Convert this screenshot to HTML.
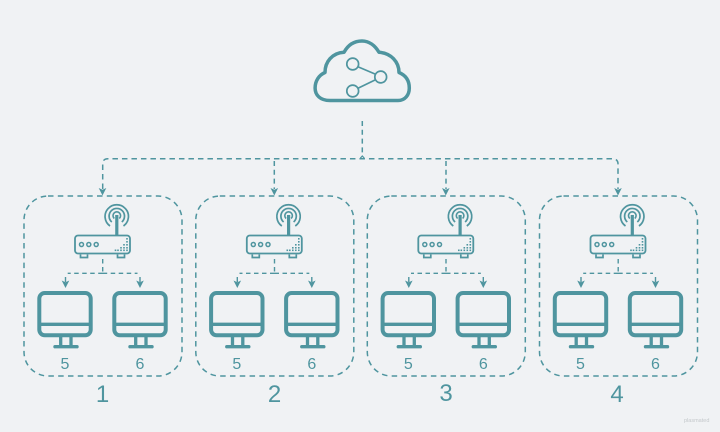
<!DOCTYPE html>
<html>
<head>
<meta charset="utf-8">
<style>
html,body{margin:0;padding:0;background:#f0f2f4;width:720px;height:432px;overflow:hidden}
svg{display:block}
text{font-family:"Liberation Sans",sans-serif;fill:#4f959f}
</style>
</head>
<body>
<svg width="720" height="432" viewBox="0 0 720 432" xmlns="http://www.w3.org/2000/svg">
<defs>
<g id="mon">
<rect x="39.3" y="293" width="51.4" height="42.3" rx="5.5" fill="none" stroke="#4f959f" stroke-width="4"/>
<path d="M39.3 324.3H90.7" stroke="#4f959f" stroke-width="3.3"/>
<path d="M60.7 336V346M71 336V346" stroke="#4f959f" stroke-width="3.3" fill="none"/>
<path d="M55 346.7H77" stroke="#4f959f" stroke-width="3.4" stroke-linecap="round"/>
</g>
<g id="arrow">
<path d="M-3.8 -6.500L0 -4.800L3.800 -6.500L0 1Z" fill="#4f959f"/>
</g>
<g id="grp">
<rect x="24" y="196" width="158" height="180" rx="24" fill="none" stroke="#4f959f" stroke-width="1.500" stroke-dasharray="5.500 4.300"/>
<use href="#arrow" x="102.500" y="194.500"/>
<!-- router -->
<g fill="none" stroke="#4f959f">
<path d="M110 226A11.700 11.700 0 1 1 123.500 226" stroke-width="1.700"/>
<path d="M111.800 222A7.700 7.700 0 1 1 121.800 222" stroke-width="1.700"/>
<path d="M114.300 218.500A3.800 3.800 0 1 1 119.300 218.500" stroke-width="1.600"/>
<rect x="75" y="235.500" width="55" height="18" rx="3" stroke-width="1.800"/>
<path d="M80.500 254.500V257.500H87.500V254.500M117.500 254.500V257.500H124.500V254.500" stroke-width="1.700"/>
<circle cx="81.500" cy="244.500" r="2" stroke-width="1.500"/>
<circle cx="88.800" cy="244.500" r="2" stroke-width="1.500"/>
<circle cx="96.200" cy="244.500" r="2" stroke-width="1.500"/>
</g>
<path d="M116.800 215V235" stroke="#4f959f" stroke-width="3.200"/>
<g fill="#4f959f">
<rect x="126.200" y="238" width="1.600" height="1.600"/>
<rect x="126.200" y="241" width="1.600" height="1.600"/>
<rect x="126.200" y="244" width="1.600" height="1.600"/>
<rect x="123.200" y="244" width="1.600" height="1.600"/>
<rect x="126.200" y="247" width="1.600" height="1.600"/>
<rect x="123.200" y="247" width="1.600" height="1.600"/>
<rect x="120.200" y="247" width="1.600" height="1.600"/>
<rect x="126.200" y="249.500" width="1.600" height="1.600"/>
<rect x="123.200" y="249.500" width="1.600" height="1.600"/>
<rect x="120.200" y="249.500" width="1.600" height="1.600"/>
<rect x="117.200" y="249.500" width="1.600" height="1.600"/>
<rect x="114.700" y="249.500" width="1.600" height="1.600"/>
</g>
<!-- router connectors -->
<path d="M102.700 259V273.300" fill="none" stroke="#4f959f" stroke-width="1.400" stroke-dasharray="4.500 3.500"/>
<path d="M102.700 273.300H67.700M102.700 273.300H137.500" fill="none" stroke="#4f959f" stroke-width="1.400" stroke-dasharray="4.500 3.500"/>
<path d="M65.500 277V282M140 277V282" fill="none" stroke="#4f959f" stroke-width="1.400"/>
<use href="#arrow" x="65.500" y="287"/>
<use href="#arrow" x="140" y="287"/>
<use href="#mon"/>
<use href="#mon" x="75"/>
<text x="65" y="369" font-size="16" text-anchor="middle">5</text>
<text x="140" y="369" font-size="16" text-anchor="middle">6</text>
</g>
</defs>
<rect width="720" height="432" fill="#f0f2f4"/>
<!-- cloud -->
<path d="M330 100.500H398C405 100.500 409.300 95 409.300 88C409.300 80 405 75 399 72.500C399 62 391 53 379 52.300C375 45.500 369 41 362 41C354 41 348 45 344 52.300C332 53 325 62 325 72.500C319 75 315.100 81 315.100 88C315.100 95 320 100.500 330 100.500Z" fill="none" stroke="#4f959f" stroke-width="3.500" stroke-linejoin="round"/>
<g fill="none" stroke="#4f959f" stroke-width="1.700">
<circle cx="352.700" cy="64" r="5.900"/>
<circle cx="380.700" cy="77" r="5.900"/>
<circle cx="352.700" cy="91" r="5.900"/>
<path d="M358.500 67L375 74M358.500 88L375 80"/>
</g>
<!-- main connectors -->
<path d="M362.300 121V155" fill="none" stroke="#4f959f" stroke-width="1.500" stroke-dasharray="5 3.800"/>
<path d="M360.300 158.200L362.300 156L364.300 158.200" fill="none" stroke="#4f959f" stroke-width="1.200"/>
<path d="M102.700 189V164Q102.700 158.700 108 158.700H612Q618 158.700 618 164V189" fill="none" stroke="#4f959f" stroke-width="1.500" stroke-dasharray="5.500 4"/>
<path d="M274.300 161V189M446 161V189" fill="none" stroke="#4f959f" stroke-width="1.500" stroke-dasharray="5 3.800"/>
<use href="#grp"/>
<use href="#grp" x="171.800"/>
<use href="#grp" x="343.300"/>
<use href="#grp" x="515.500"/>
<text x="102.500" y="402" font-size="24" text-anchor="middle">1</text>
<text x="274.500" y="402" font-size="24" text-anchor="middle">2</text>
<text x="446" y="401" font-size="24" text-anchor="middle">3</text>
<text x="617" y="402" font-size="24" text-anchor="middle">4</text>
<text x="684" y="422" font-size="5.500" style="fill:#c4c8cb">plasmated</text>
</svg>
</body>
</html>
